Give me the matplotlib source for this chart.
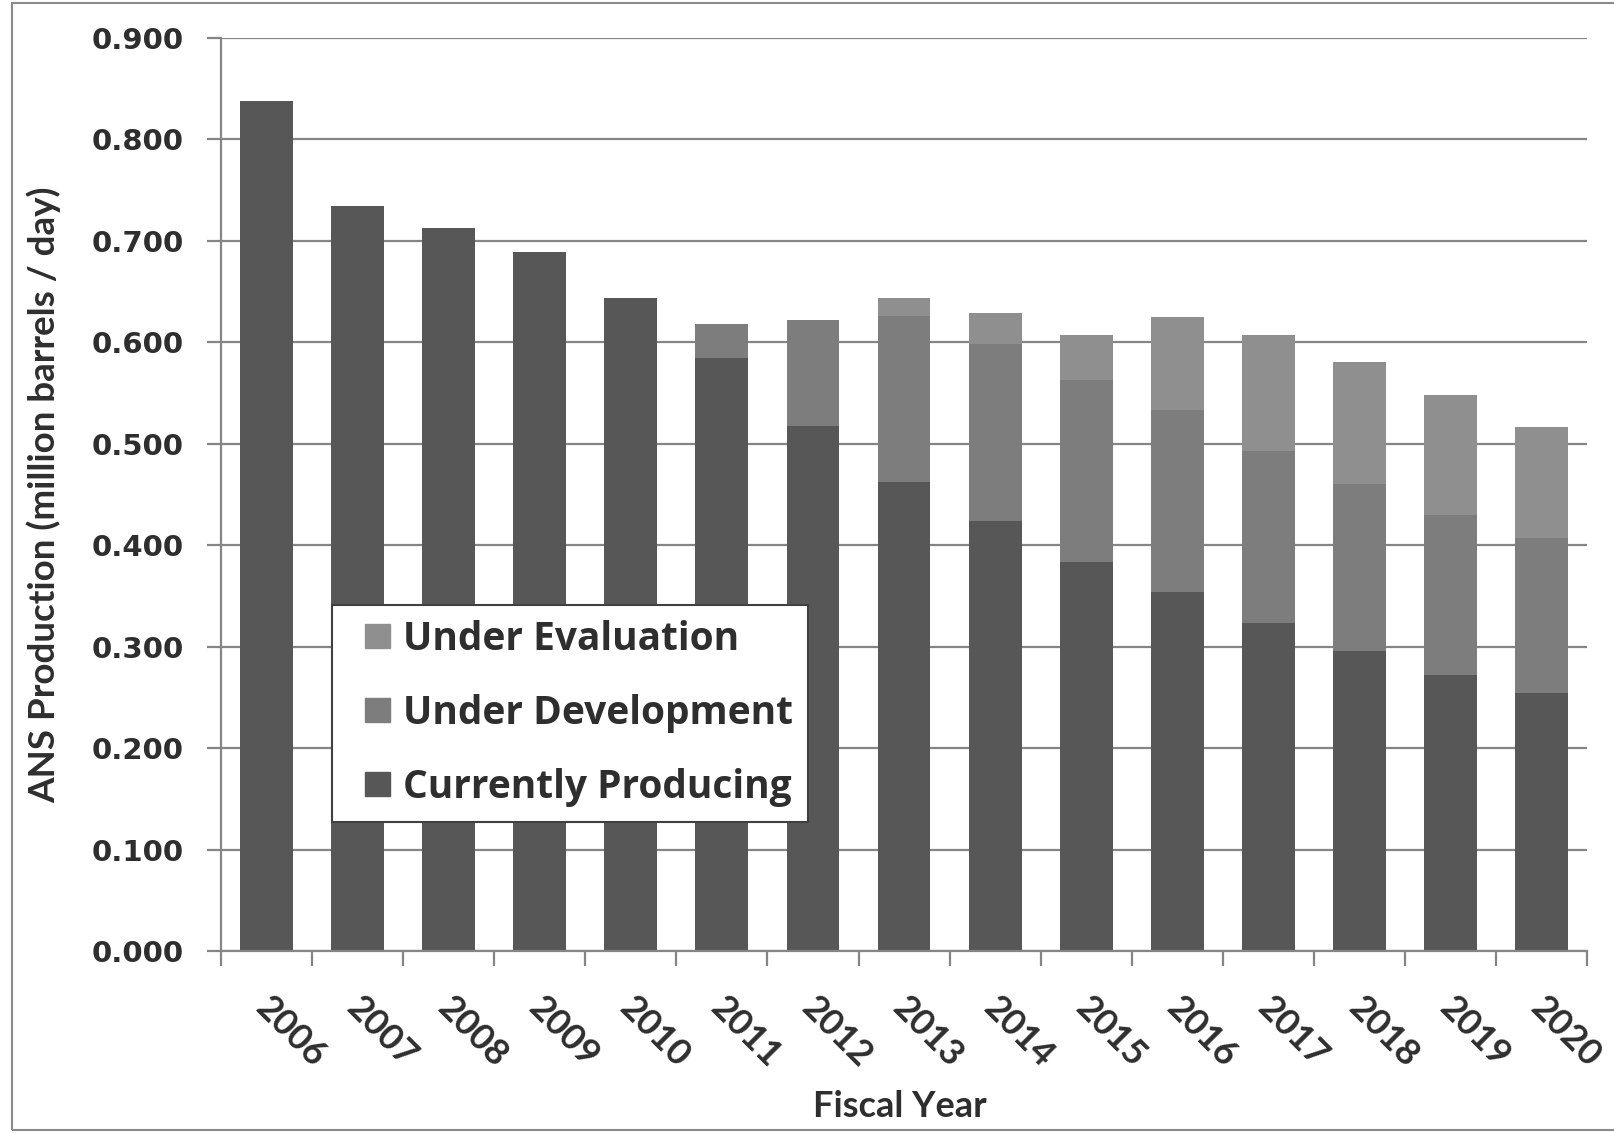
import numpy as np
import matplotlib
matplotlib.use("Agg")
import matplotlib.pyplot as plt
from matplotlib.patches import Patch, Rectangle
from matplotlib.legend_handler import HandlerPatch
from matplotlib.transforms import ScaledTranslation

years = ["2006", "2007", "2008", "2009", "2010", "2011", "2012", "2013",
         "2014", "2015", "2016", "2017", "2018", "2019", "2020"]

# million barrels / day
producing = [0.838, 0.734, 0.713, 0.689, 0.644, 0.585, 0.518, 0.462,
             0.424, 0.383, 0.354, 0.323, 0.296, 0.272, 0.254]
development = [0.0, 0.0, 0.0, 0.0, 0.0, 0.033, 0.104, 0.164,
               0.174, 0.180, 0.179, 0.170, 0.164, 0.158, 0.153]
evaluation = [0.0, 0.0, 0.0, 0.0, 0.0, 0.0, 0.0, 0.018,
              0.031, 0.044, 0.092, 0.114, 0.121, 0.118, 0.110]

c_prod = "#575757"
c_dev = "#7d7d7d"
c_eval = "#8f8f8f"
txt = "#2e2e2e"
grid_c = "#858585"

fig = plt.figure(figsize=(16.15, 11.33), dpi=100)
ax = fig.add_axes([0.1368, 0.1606, 0.846, 0.8059])

x = np.arange(len(years))
prod = np.array(producing)
dev = np.array(development)
ev = np.array(evaluation)
w = 0.58

ax.bar(x, prod, w, color=c_prod, zorder=2)
ax.bar(x, dev, w, bottom=prod, color=c_dev, zorder=2)
ax.bar(x, ev, w, bottom=prod + dev, color=c_eval, zorder=2)

ax.set_xlim(-0.5, len(years) - 0.5)
ax.set_ylim(0, 0.9)
ax.set_yticks(np.arange(0, 0.91, 0.1))
ax.set_yticklabels(["%.3f" % v for v in np.arange(0, 0.91, 0.1)],
                   fontfamily="DejaVu Sans", fontweight="bold",
                   fontsize=21, color=txt)
ax.yaxis.grid(True, color=grid_c, linewidth=1.6, zorder=0)
ax.set_axisbelow(True)

for s in ["top", "right"]:
    ax.spines[s].set_visible(False)
for s in ["left", "bottom"]:
    ax.spines[s].set_color(grid_c)
    ax.spines[s].set_linewidth(1.6)

ax.tick_params(axis="y", length=10, width=1.6, color=grid_c, pad=17)

# tick marks between categories, labels at bar centres
ax.set_xticks(np.arange(-0.5, len(years), 1.0), minor=True)
ax.tick_params(axis="x", which="minor", length=11, width=1.6,
               color=grid_c, direction="out")
ax.set_xticks(x)
ax.set_xticklabels(years, rotation=-45, ha="left", va="top",
                   rotation_mode="anchor", fontfamily="Lato",
                   fontweight="bold", fontsize=26, color=txt)
ax.tick_params(axis="x", which="major", length=0, pad=29)
offset = ScaledTranslation(0.06, 0, fig.dpi_scale_trans)
for lab in ax.get_xticklabels():
    lab.set_transform(lab.get_transform() + offset)

ax.set_ylabel("ANS Production (million barrels / day)", fontfamily="Lato",
              fontweight="bold", fontsize=26.5, color=txt)
ax.yaxis.set_label_coords(-0.117, 0.5)
ax.set_xlabel("Fiscal Year", fontfamily="Lato", fontweight="bold",
              fontsize=26, color=txt, va="top")
ax.xaxis.set_label_coords(0.497, -0.152)


def square_patch(legend, orig_handle, xdescent, ydescent, width, height,
                 fontsize):
    # small square pushed to the right end of the handle box
    s = height
    return Rectangle((-xdescent + width - s, -ydescent), s, s)


handles = [Patch(color=c_eval, label="Under Evaluation"),
           Patch(color=c_dev, label="Under Development"),
           Patch(color=c_prod, label="Currently Producing")]
leg = ax.legend(handles=handles, loc="upper left",
                bbox_to_anchor=(0.081, 0.379), borderaxespad=0,
                prop={"family": "Open Sans", "weight": "bold", "size": 28},
                labelspacing=0.9, handlelength=1.12, handleheight=0.6,
                handletextpad=0.33, borderpad=0.38, fancybox=False,
                framealpha=1, edgecolor="#404040",
                handler_map={Patch: HandlerPatch(patch_func=square_patch)})
leg.get_frame().set_linewidth(1.5)
for t in leg.get_texts():
    t.set_color(txt)

# thin frame round the chart
fig.patches.append(Rectangle((0.0074, 0.0026), 1.0, 0.9948,
                             transform=fig.transFigure, fill=False,
                             edgecolor="#8a8a8a", linewidth=1.5))

fig.savefig("out.png", dpi=100)
